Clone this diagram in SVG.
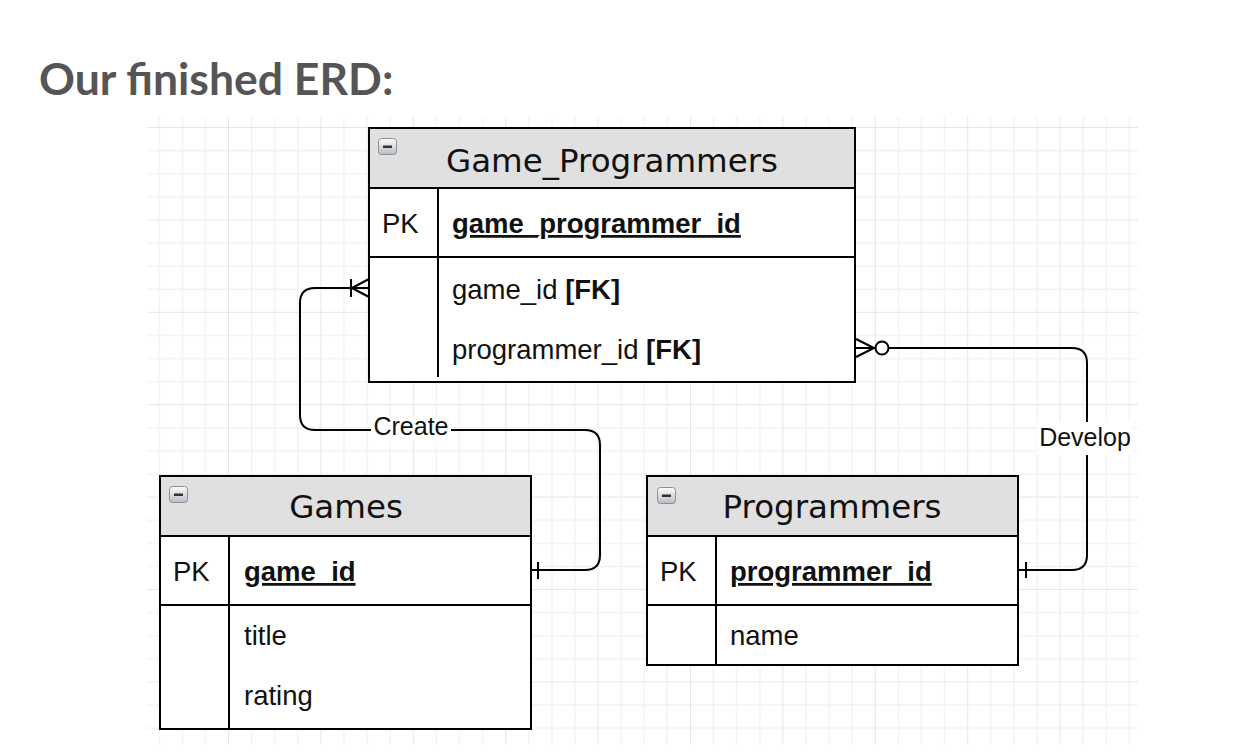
<svg xmlns="http://www.w3.org/2000/svg" width="1252" height="752" viewBox="0 0 1252 752">
<style>
.tbl{fill:#fff;stroke:#000;stroke-width:2}
.hdr{fill:#e0e0e0;stroke:#000;stroke-width:2}
.ln{stroke:#000;stroke-width:2;fill:none}
.ht{font-family:"DejaVu Sans",sans-serif;font-size:32.5px;fill:#111;text-anchor:middle}
.t{font-family:"Liberation Sans",Arial,sans-serif;font-size:27.5px;fill:#111}
.b{font-weight:bold}
.u{text-decoration:underline}
.lbl{font-family:"Liberation Sans",Arial,sans-serif;font-size:25px;fill:#111;text-anchor:middle}
.con{stroke:#000;stroke-width:2;fill:none}
</style>
<defs>
<pattern id="grid" patternUnits="userSpaceOnUse" x="228" y="127" width="92.4" height="92.4">
<rect x="0" y="0" width="92.4" height="92.4" fill="#fff"/>
<g fill="#eeeeee">
<rect x="23.1" y="0" width="1" height="92.4"/>
<rect x="46.2" y="0" width="1" height="92.4"/>
<rect x="69.3" y="0" width="1" height="92.4"/>
<rect x="0" y="23.1" width="92.4" height="1"/>
<rect x="0" y="46.2" width="92.4" height="1"/>
<rect x="0" y="69.3" width="92.4" height="1"/>
</g>
<g fill="#dedede">
<rect x="-0.75" y="0" width="1.5" height="92.4"/>
<rect x="0" y="-0.75" width="92.4" height="1.5"/>
</g>
</pattern>
<linearGradient id="ig" x1="0" y1="0" x2="0" y2="1">
<stop offset="0" stop-color="#fdfdfd"/>
<stop offset="1" stop-color="#b8bcc4"/>
</linearGradient>
<g id="icon">
<rect x="0.5" y="0.5" width="18" height="16" rx="3" fill="url(#ig)" stroke="#8a8f98" stroke-width="1"/>
<rect x="5" y="7.5" width="9" height="2.5" fill="#333"/>
</g>
</defs>
<rect x="0" y="0" width="1252" height="752" fill="#fff"/>
<text x="39" y="95" font-family="Lato,sans-serif" font-weight="bold" font-size="44.5" fill="#555">Our finished ERD:</text>
<rect x="147" y="117" width="991" height="628" fill="url(#grid)"/>

<g id="connectors">
<path class="con" d="M 531 570 H 585 Q 600 570 600 555 V 445 Q 600 430 585 430 H 315 Q 300 430 300 415 V 303 Q 300 288 315 288 H 369"/>
<path class="con" d="M 351 279 V 297 M 352 288 L 369 279 M 352 288 L 369 297"/>
<path class="con" d="M 538 562 V 579"/>
<path class="con" d="M 855 348 H 1072 Q 1087 348 1087 363 V 555 Q 1087 570 1072 570 H 1018"/>
<path class="con" d="M 856 339 L 874 348 L 856 357"/>
<circle cx="882" cy="348" r="6.5" fill="#fff" stroke="#000" stroke-width="2"/>
<path class="con" d="M 1026 562 V 578"/>
<rect x="371" y="417" width="80" height="24" fill="#fff"/>
<text class="lbl" x="411" y="435">Create</text>
<rect x="1037" y="422" width="96" height="33" fill="#fff"/>
<text class="lbl" x="1085" y="446">Develop</text>
</g>

<g id="game_programmers">
<rect class="tbl" x="369" y="128" width="486" height="254"/>
<rect class="hdr" x="369" y="128" width="486" height="60"/>
<use href="#icon" x="378" y="138"/>
<text class="ht" x="612" y="172">Game_Programmers</text>
<line class="ln" x1="369" y1="257" x2="855" y2="257"/>
<line class="ln" x1="438" y1="188" x2="438" y2="377"/>
<text class="t" x="382" y="233">PK</text>
<text class="t b u" x="452" y="233">game_programmer_id</text>
<text class="t" x="452" y="299">game_id <tspan class="b">[FK]</tspan></text>
<text class="t" x="452" y="359">programmer_id <tspan class="b">[FK]</tspan></text>
</g>

<g id="games">
<rect class="tbl" x="160" y="476" width="371" height="253"/>
<rect class="hdr" x="160" y="476" width="371" height="60"/>
<use href="#icon" x="169" y="486"/>
<text class="ht" x="346" y="518">Games</text>
<line class="ln" x1="160" y1="605" x2="531" y2="605"/>
<line class="ln" x1="229" y1="536" x2="229" y2="729"/>
<text class="t" x="173" y="581">PK</text>
<text class="t b u" x="244" y="581">game_id</text>
<text class="t" x="244" y="645">title</text>
<text class="t" x="244" y="705">rating</text>
</g>

<g id="programmers">
<rect class="tbl" x="647" y="476" width="371" height="189"/>
<rect class="hdr" x="647" y="476" width="371" height="60"/>
<use href="#icon" x="657" y="487"/>
<text class="ht" x="832" y="518">Programmers</text>
<line class="ln" x1="647" y1="605" x2="1018" y2="605"/>
<line class="ln" x1="716" y1="536" x2="716" y2="665"/>
<text class="t" x="660" y="581">PK</text>
<text class="t b u" x="730" y="581">programmer_id</text>
<text class="t" x="730" y="645">name</text>
</g>
</svg>
